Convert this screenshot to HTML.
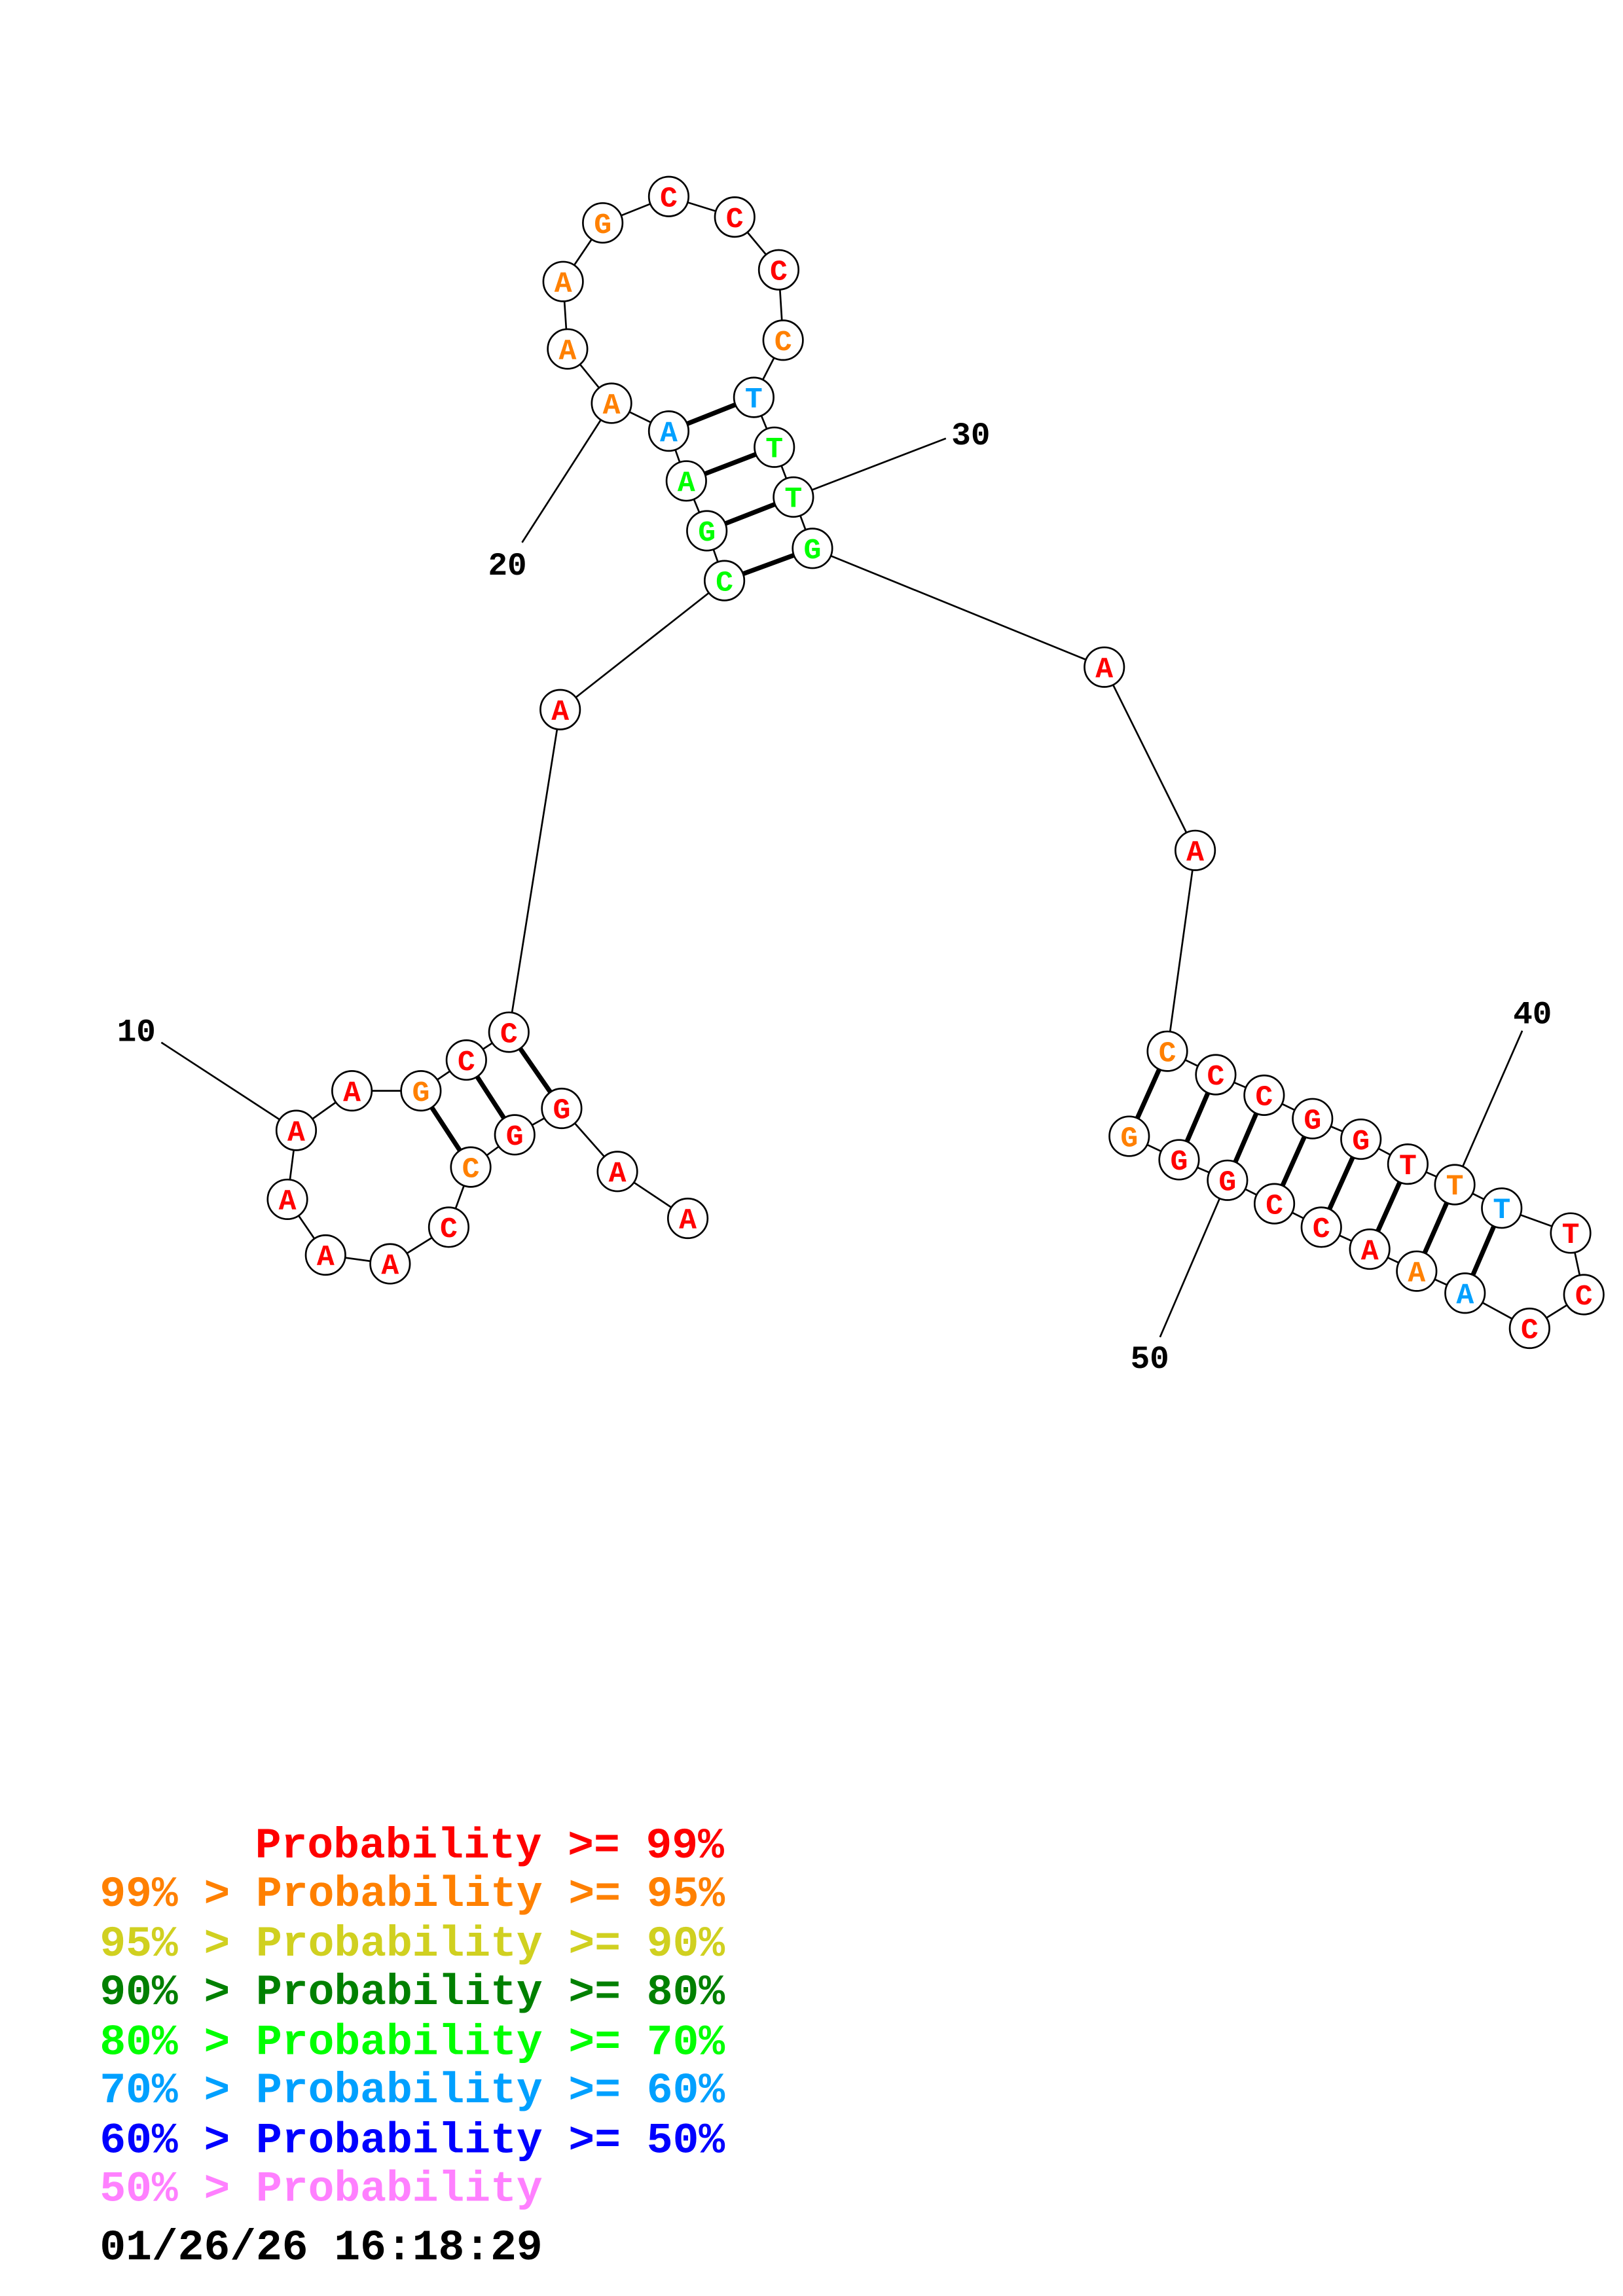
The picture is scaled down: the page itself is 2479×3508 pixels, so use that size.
<!DOCTYPE html>
<html><head><meta charset="utf-8"><style>html,body{margin:0;padding:0;background:#fff}svg{display:block}</style></head>
<body>
<svg width="2479" height="3508" viewBox="0 0 1106.7 1566" xmlns="http://www.w3.org/2000/svg">
<rect width="1107" height="1566" fill="#fff"/>
<g stroke="#000" stroke-width="1.2" fill="none">
<polyline points="469,831 421,799 383,756 351,774 321,796 306,837 266,862 222,856 196,818 202,771 240,744 287,744 318,723 347,704 382,484 494,396 482,362 468,328 456,294 417,275 387,238 384,192 411,152 456,134 501,148 531,184 534,232 514,271 528,305 541,339 554,374 753,455 815,580 796,717 829,733 862,747 895,763 928,777 960,794 992,808 1024,824 1071,841 1080,883 1043,906 999,882 966,867 934,852 901,837 869,821 837,805 804,791 770,775"/>
<line x1="110" y1="711" x2="202" y2="771"/>
<line x1="356" y1="370" x2="417" y2="275"/>
<line x1="541" y1="339" x2="645" y2="299"/>
<line x1="992" y1="808" x2="1038" y2="703"/>
<line x1="791" y1="912" x2="837" y2="805"/>
</g>
<g stroke="#000" stroke-width="3.2">
<line x1="383" y1="756" x2="347" y2="704"/>
<line x1="351" y1="774" x2="318" y2="723"/>
<line x1="321" y1="796" x2="287" y2="744"/>
<line x1="494" y1="396" x2="554" y2="374"/>
<line x1="482" y1="362" x2="541" y2="339"/>
<line x1="468" y1="328" x2="528" y2="305"/>
<line x1="456" y1="294" x2="514" y2="271"/>
<line x1="796" y1="717" x2="770" y2="775"/>
<line x1="829" y1="733" x2="804" y2="791"/>
<line x1="862" y1="747" x2="837" y2="805"/>
<line x1="895" y1="763" x2="869" y2="821"/>
<line x1="928" y1="777" x2="901" y2="837"/>
<line x1="960" y1="794" x2="934" y2="852"/>
<line x1="992" y1="808" x2="966" y2="867"/>
<line x1="1024" y1="824" x2="999" y2="882"/>
</g>
<g font-family="Liberation Mono, monospace" font-weight="bold" font-size="20" text-anchor="middle">
<g stroke="#000" stroke-width="1.2" fill="#fff">
<circle cx="469" cy="831" r="13.5"/><circle cx="421" cy="799" r="13.5"/><circle cx="383" cy="756" r="13.5"/><circle cx="351" cy="774" r="13.5"/><circle cx="321" cy="796" r="13.5"/><circle cx="306" cy="837" r="13.5"/><circle cx="266" cy="862" r="13.5"/><circle cx="222" cy="856" r="13.5"/><circle cx="196" cy="818" r="13.5"/><circle cx="202" cy="771" r="13.5"/><circle cx="240" cy="744" r="13.5"/><circle cx="287" cy="744" r="13.5"/><circle cx="318" cy="723" r="13.5"/><circle cx="347" cy="704" r="13.5"/><circle cx="382" cy="484" r="13.5"/><circle cx="494" cy="396" r="13.5"/><circle cx="482" cy="362" r="13.5"/><circle cx="468" cy="328" r="13.5"/><circle cx="456" cy="294" r="13.5"/><circle cx="417" cy="275" r="13.5"/><circle cx="387" cy="238" r="13.5"/><circle cx="384" cy="192" r="13.5"/><circle cx="411" cy="152" r="13.5"/><circle cx="456" cy="134" r="13.5"/><circle cx="501" cy="148" r="13.5"/><circle cx="531" cy="184" r="13.5"/><circle cx="534" cy="232" r="13.5"/><circle cx="514" cy="271" r="13.5"/><circle cx="528" cy="305" r="13.5"/><circle cx="541" cy="339" r="13.5"/><circle cx="554" cy="374" r="13.5"/><circle cx="753" cy="455" r="13.5"/><circle cx="815" cy="580" r="13.5"/><circle cx="796" cy="717" r="13.5"/><circle cx="829" cy="733" r="13.5"/><circle cx="862" cy="747" r="13.5"/><circle cx="895" cy="763" r="13.5"/><circle cx="928" cy="777" r="13.5"/><circle cx="960" cy="794" r="13.5"/><circle cx="992" cy="808" r="13.5"/><circle cx="1024" cy="824" r="13.5"/><circle cx="1071" cy="841" r="13.5"/><circle cx="1080" cy="883" r="13.5"/><circle cx="1043" cy="906" r="13.5"/><circle cx="999" cy="882" r="13.5"/><circle cx="966" cy="867" r="13.5"/><circle cx="934" cy="852" r="13.5"/><circle cx="901" cy="837" r="13.5"/><circle cx="869" cy="821" r="13.5"/><circle cx="837" cy="805" r="13.5"/><circle cx="804" cy="791" r="13.5"/><circle cx="770" cy="775" r="13.5"/>
</g>
<g transform="translate(0,6.8)">
<text x="469" y="831" fill="#f00">A</text><text x="421" y="799" fill="#f00">A</text><text x="383" y="756" fill="#f00">G</text><text x="351" y="774" fill="#f00">G</text><text x="321" y="796" fill="#ff8000">C</text><text x="306" y="837" fill="#f00">C</text><text x="266" y="862" fill="#f00">A</text><text x="222" y="856" fill="#f00">A</text><text x="196" y="818" fill="#f00">A</text><text x="202" y="771" fill="#f00">A</text><text x="240" y="744" fill="#f00">A</text><text x="287" y="744" fill="#ff8000">G</text><text x="318" y="723" fill="#f00">C</text><text x="347" y="704" fill="#f00">C</text><text x="382" y="484" fill="#f00">A</text><text x="494" y="396" fill="#0f0">C</text><text x="482" y="362" fill="#0f0">G</text><text x="468" y="328" fill="#0f0">A</text><text x="456" y="294" fill="#00a0ff">A</text><text x="417" y="275" fill="#ff8000">A</text><text x="387" y="238" fill="#ff8000">A</text><text x="384" y="192" fill="#ff8000">A</text><text x="411" y="152" fill="#ff8000">G</text><text x="456" y="134" fill="#f00">C</text><text x="501" y="148" fill="#f00">C</text><text x="531" y="184" fill="#f00">C</text><text x="534" y="232" fill="#ff8000">C</text><text x="514" y="271" fill="#00a0ff">T</text><text x="528" y="305" fill="#0f0">T</text><text x="541" y="339" fill="#0f0">T</text><text x="554" y="374" fill="#0f0">G</text><text x="753" y="455" fill="#f00">A</text><text x="815" y="580" fill="#f00">A</text><text x="796" y="717" fill="#ff8000">C</text><text x="829" y="733" fill="#f00">C</text><text x="862" y="747" fill="#f00">C</text><text x="895" y="763" fill="#f00">G</text><text x="928" y="777" fill="#f00">G</text><text x="960" y="794" fill="#f00">T</text><text x="992" y="808" fill="#ff8000">T</text><text x="1024" y="824" fill="#00a0ff">T</text><text x="1071" y="841" fill="#f00">T</text><text x="1080" y="883" fill="#f00">C</text><text x="1043" y="906" fill="#f00">C</text><text x="999" y="882" fill="#00a0ff">A</text><text x="966" y="867" fill="#ff8000">A</text><text x="934" y="852" fill="#f00">A</text><text x="901" y="837" fill="#f00">C</text><text x="869" y="821" fill="#f00">C</text><text x="837" y="805" fill="#f00">G</text><text x="804" y="791" fill="#f00">G</text><text x="770" y="775" fill="#ff8000">G</text>
</g>
</g>
<g font-family="Liberation Mono, monospace" font-weight="bold" font-size="22" text-anchor="middle" fill="#000">
<text x="93" y="710">10</text><text x="346" y="392">20</text><text x="662" y="303">30</text><text x="1045" y="698">40</text><text x="784" y="933">50</text>
</g>
<g font-family="Liberation Mono, monospace" font-weight="bold" font-size="29.6">
<text x="174" y="1267" fill="#f00">Probability &gt;= 99%</text>
<text x="68" y="1300" fill="#ff8000">99% &gt; Probability &gt;= 95%</text>
<text x="68" y="1334" fill="#d0d020">95% &gt; Probability &gt;= 90%</text>
<text x="68" y="1367" fill="#008000">90% &gt; Probability &gt;= 80%</text>
<text x="68" y="1401" fill="#00ff00">80% &gt; Probability &gt;= 70%</text>
<text x="68" y="1434" fill="#00a0ff">70% &gt; Probability &gt;= 60%</text>
<text x="68" y="1468" fill="#0000ff">60% &gt; Probability &gt;= 50%</text>
<text x="68" y="1501" fill="#ff80ff">50% &gt; Probability</text>
<text x="68" y="1541" fill="#000">01/26/26 16:18:29</text>
</g>
</svg>
</body></html>
